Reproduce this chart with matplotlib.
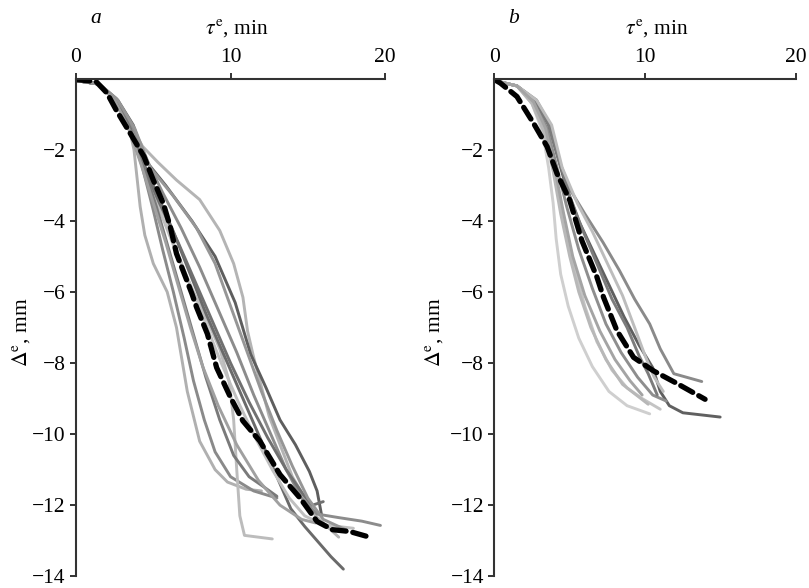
import numpy as np
import matplotlib
matplotlib.use('Agg')
import matplotlib.pyplot as plt

# ============================================================
#  資料區
# ============================================================
X_TICKS = [0, 10, 20]
Y_TICKS = [-2, -4, -6, -8, -10, -12, -14]

# panel a — 平均曲線（黑色虛線）
A_MEAN_X = [0.0, 1.3, 2.0, 2.6, 3.5, 4.4, 5.0, 5.65, 6.1, 6.5, 7.5, 7.8, 8.5, 9.1, 10.0,
            10.8, 11.9, 13.2, 14.5, 15.6, 16.6, 17.7, 19.0]
A_MEAN_Y = [-0.02, -0.08, -0.4, -0.88, -1.53, -2.19, -2.85, -3.51, -4.17, -4.92, -6.05, -6.43,
            -7.18, -8.13, -8.97, -9.63, -10.2, -11.14, -11.8, -12.46, -12.69, -12.74, -12.9]

# panel a — 各次實驗曲線
A_X = [
    [0, 1.5, 2.5, 3.4, 4.3, 5.3, 6.5, 8.0, 9.3, 10.2, 10.8, 11.1, 11.5, 12.5, 14.0, 15.5, 17.0],
    [0, 1.5, 2.5, 3.4, 3.75, 3.95, 4.15, 4.45, 5.0, 5.9, 6.5, 7.2, 8.0, 9.0, 9.8, 11.0, 12.0],
    [0, 1.5, 2.6, 3.5, 4.3, 5.0, 5.6, 6.3, 7.0, 7.6, 8.3, 9.0, 10.0, 11.5, 13.0],
    [0, 1.5, 2.6, 3.5, 4.5, 5.5, 6.5, 7.5, 8.5, 9.3, 9.9, 10.2, 10.4, 10.6, 10.9, 12.7],
    [0, 1.5, 2.7, 3.7, 4.5, 5.8, 7.5, 9.0, 10.3, 11.3, 12.3, 13.2, 14.2, 15.1, 15.6, 15.9],
    [0, 1.5, 2.6, 3.5, 4.4, 5.3, 6.3, 7.3, 8.4, 9.6, 10.8, 12.0, 13.0, 13.9, 14.8, 15.6, 16.5, 17.3],
    [0, 1.5, 2.6, 3.6, 4.6, 5.6, 6.8, 8.0, 9.2, 10.4, 11.5, 12.6, 13.6, 14.6, 15.6, 17.0, 18.5, 19.7],
    [0, 1.5, 2.5, 3.4, 4.3, 5.2, 6.2, 7.2, 8.3, 9.4, 10.5, 11.6, 12.7, 13.8, 14.8, 16.0, 17.95],
    [0, 1.5, 2.6, 3.5, 4.4, 5.4, 6.6, 7.7, 8.9, 10.0, 11.2, 12.4, 13.6, 14.7, 15.3, 16.0],
    [0, 1.5, 2.6, 3.5, 4.3, 5.2, 6.0, 6.8, 7.6, 8.4, 9.3, 10.2, 11.2, 12.2, 13.0],
    [0, 1.5, 2.5, 3.4, 4.2, 5.0, 5.8, 6.6, 7.4, 8.2, 9.2, 10.4, 11.8, 13.2, 14.6, 15.5],
    [0, 1.5, 2.7, 3.8, 4.8, 6.3, 7.8, 9.0, 10.0, 11.0, 12.0, 13.0, 14.0, 15.0, 16.0, 17.5],
]
A_Y = [
    [-0.05, -0.15, -0.6, -1.2, -1.9, -2.35, -2.85, -3.4, -4.27, -5.2, -6.15, -7.1, -7.85, -9.5, -11.2, -12.3, -12.9],
    [-0.05, -0.15, -0.6, -1.3, -2.0, -2.8, -3.6, -4.4, -5.2, -6.0, -7.0, -8.8, -10.2, -11.0, -11.35, -11.55, -11.6],
    [-0.05, -0.15, -0.6, -1.4, -2.5, -3.7, -4.8, -6.0, -7.3, -8.5, -9.6, -10.5, -11.2, -11.6, -11.8],
    [-0.05, -0.15, -0.6, -1.4, -2.6, -3.8, -4.9, -5.9, -6.8, -7.6, -8.5, -9.6, -11.0, -12.3, -12.85, -12.95],
    [-0.05, -0.15, -0.6, -1.3, -2.3, -3.0, -4.0, -5.0, -6.3, -7.75, -8.7, -9.6, -10.3, -11.05, -11.6, -12.3],
    [-0.05, -0.15, -0.6, -1.4, -2.4, -3.3, -4.3, -5.4, -6.6, -7.8, -9.0, -10.2, -11.2, -12.1, -12.6, -13.0, -13.45, -13.8],
    [-0.05, -0.15, -0.55, -1.3, -2.3, -3.2, -4.2, -5.3, -6.5, -7.7, -8.9, -10.0, -11.0, -11.8, -12.25, -12.35, -12.45, -12.57],
    [-0.05, -0.15, -0.6, -1.4, -2.4, -3.4, -4.5, -5.6, -6.8, -8.0, -9.1, -10.1, -11.0, -11.8, -12.3, -12.55, -12.65],
    [-0.05, -0.15, -0.6, -1.4, -2.5, -3.5, -4.6, -5.7, -6.9, -8.0, -9.1, -10.1, -11.0, -11.7, -12.0, -11.9],
    [-0.05, -0.15, -0.6, -1.4, -2.4, -3.6, -4.8, -6.0, -7.2, -8.4, -9.6, -10.6, -11.2, -11.5, -11.75],
    [-0.05, -0.15, -0.6, -1.4, -2.4, -3.5, -4.6, -5.8, -7.0, -8.1, -9.2, -10.3, -11.3, -12.0, -12.4, -12.5],
    [-0.05, -0.15, -0.6, -1.4, -2.5, -3.3, -4.2, -5.2, -6.4, -7.6, -8.8, -9.9, -10.9, -11.8, -12.4, -12.7],
]
A_COLORS = ['#b4b4b4', '#b0b0b0', '#8a8a8a', '#bcbcbc', '#5e5e5e', '#6a6a6a',
            '#8c8c8c', '#c0c0c0', '#707070', '#7a7a7a', '#a0a0a0', '#969696']

# panel b — 平均曲線
B_MEAN_X = [0.0, 0.4, 1.5, 2.6, 3.5, 4.15, 5.0, 5.8, 6.8, 7.24, 8.13, 9.23, 10.55, 12.0, 13.97]
B_MEAN_Y = [-0.02, -0.12, -0.5, -1.25, -1.91, -2.66, -3.42, -4.55, -5.58, -6.15, -7.09, -7.84,
            -8.22, -8.55, -9.02]

# panel b — 各次實驗曲線
B_X = [
    [0, 1.5, 2.7, 3.6, 4.2, 4.8, 5.6, 6.6, 7.6, 8.6, 9.6, 10.5, 11.0, 11.6, 12.5, 14.97],
    [0, 1.5, 2.8, 3.7, 4.3, 5.0, 6.0, 7.2, 8.3, 9.3, 10.3, 11.0, 11.9, 13.75],
    [0, 1.5, 2.5, 3.2, 3.6, 3.9, 4.1, 4.4, 4.9, 5.6, 6.5, 7.6, 8.8, 10.3],
    [0, 1.5, 2.6, 3.4, 4.0, 4.6, 5.3, 6.0, 6.8, 7.8, 8.8, 9.8, 11.0],
    [0, 1.5, 2.6, 3.5, 4.1, 4.8, 5.6, 6.5, 7.4, 8.4, 9.5, 10.5, 11.4],
    [0, 1.5, 2.5, 3.3, 3.9, 4.4, 5.0, 5.6, 6.4, 7.4, 8.5, 10.2],
    [0, 1.5, 2.7, 3.6, 4.3, 5.0, 5.8, 6.8, 7.8, 8.8, 9.6, 10.2, 10.8],
    [0, 1.5, 2.8, 3.8, 4.5, 5.5, 6.5, 7.5, 8.5, 9.3, 10.0, 10.6, 11.2],
    [0, 1.5, 2.6, 3.4, 4.0, 4.6, 5.2, 6.0, 7.0, 8.0, 9.0, 9.8],
]
B_Y = [
    [-0.05, -0.2, -0.6, -1.3, -2.2, -3.1, -4.0, -4.9, -5.8, -6.7, -7.5, -8.13, -8.8, -9.2, -9.4, -9.52],
    [-0.05, -0.2, -0.6, -1.3, -2.3, -3.1, -3.8, -4.6, -5.4, -6.2, -6.9, -7.6, -8.3, -8.52],
    [-0.05, -0.2, -0.7, -1.5, -2.5, -3.5, -4.5, -5.5, -6.4, -7.3, -8.1, -8.8, -9.2, -9.43],
    [-0.05, -0.2, -0.7, -1.5, -2.6, -4.0, -5.3, -6.4, -7.4, -8.2, -8.7, -9.0, -9.3],
    [-0.05, -0.2, -0.65, -1.4, -2.4, -3.6, -4.8, -5.9, -6.9, -7.7, -8.4, -8.9, -9.07],
    [-0.05, -0.2, -0.7, -1.5, -2.6, -3.8, -5.0, -6.0, -7.0, -7.9, -8.6, -9.16],
    [-0.05, -0.2, -0.6, -1.3, -2.3, -3.3, -4.2, -5.2, -6.2, -7.0, -7.8, -8.3, -8.9],
    [-0.05, -0.2, -0.6, -1.3, -2.5, -3.5, -4.3, -5.2, -6.1, -7.0, -7.8, -8.4, -8.8],
    [-0.05, -0.2, -0.65, -1.4, -2.5, -3.8, -5.0, -6.1, -7.1, -7.9, -8.5, -8.9],
]
B_COLORS = ['#606060', '#8a8a8a', '#cfcfcf', '#c4c4c4', '#8e8e8e', '#b8b8b8',
            '#7c7c7c', '#bdbdbd', '#a4a4a4']


# ============================================================
#  樣式
# ============================================================
plt.rcParams['font.family'] = ['Liberation Serif', 'DejaVu Serif']
plt.rcParams['mathtext.fontset'] = 'stix'
plt.rcParams['axes.unicode_minus'] = True

AX_COLOR = '#333333'
FS = 15.5


def draw_panel(ax, xs, ys, colors, mean_x, mean_y, letter, title_x):
    for x, y, c in zip(xs, ys, colors):
        ax.plot(x, y, color=c, lw=2.1, solid_capstyle='round', solid_joinstyle='round')
    ax.plot(mean_x, mean_y, color='black', lw=3.8, ls=(0, (2.6, 1.3)), dash_capstyle='round')

    ax.set_xlim(0, 20)
    ax.set_ylim(-14, 0)
    ax.xaxis.tick_top()
    ax.set_xticks(X_TICKS)
    ax.set_yticks(Y_TICKS)
    ax.set_yticklabels(['\u2212%d' % abs(v) for v in Y_TICKS])
    ax.tick_params(axis='both', direction='out', length=4.5, width=1.4, colors=AX_COLOR,
                   labelsize=FS, labelcolor='black')
    ax.tick_params(axis='x', pad=4)
    ax.tick_params(axis='y', pad=3)

    for s in ['right', 'bottom']:
        ax.spines[s].set_visible(False)
    for s in ['top', 'left']:
        ax.spines[s].set_linewidth(1.5)
        ax.spines[s].set_color(AX_COLOR)

    ax.text(title_x, 1.102, r'$\tau^{\rm e}$, min', transform=ax.transAxes,
            ha='center', va='center', fontsize=FS)
    ax.text(0.064, 1.122, letter, transform=ax.transAxes, ha='center', va='center',
            fontsize=FS, style='italic')
    ax.set_ylabel(r'$\Delta^{\rm e}$, mm', fontsize=FS)


# ============================================================
#  主程式
# ============================================================
fig = plt.figure(figsize=(8.09, 5.88), dpi=100)
ax_a = fig.add_axes([0.094, 0.020, 0.382, 0.846])
ax_b = fig.add_axes([0.611, 0.020, 0.373, 0.846])

draw_panel(ax_a, A_X, A_Y, A_COLORS, A_MEAN_X, A_MEAN_Y, 'a', 0.52)
draw_panel(ax_b, B_X, B_Y, B_COLORS, B_MEAN_X, B_MEAN_Y, 'b', 0.54)

ax_a.yaxis.set_label_coords(-0.142, 0.49)
ax_b.yaxis.set_label_coords(-0.162, 0.49)

fig.savefig('out.png', dpi=100)
